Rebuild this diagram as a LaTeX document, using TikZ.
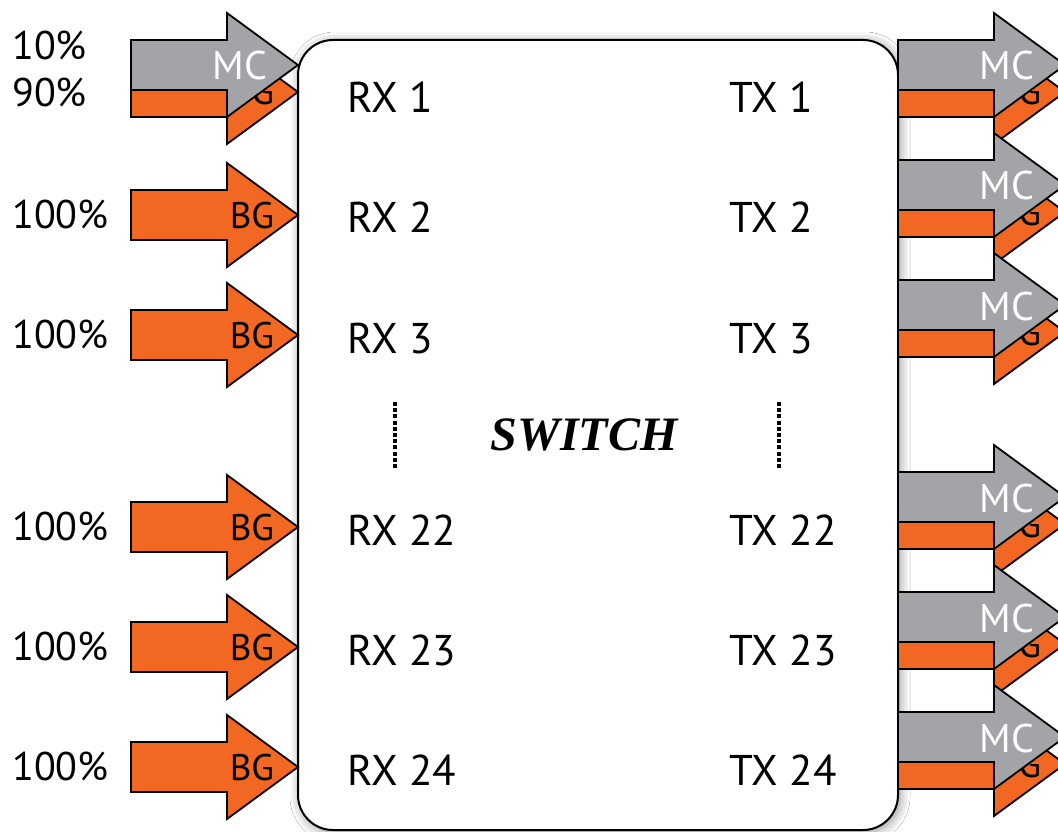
\documentclass[tikz,border=0pt]{standalone}
\usepackage{fontspec}
\setmainfont{PT Sans}
\newfontfamily\swfont{Liberation Serif}
\usetikzlibrary{shadows.blur}
\definecolor{bgcol}{HTML}{F26722}
\definecolor{mccol}{HTML}{A3A4A8}
\tikzset{
  arrowline/.style={draw=black,line width=1.8pt,line join=miter},
  pics/fatarrow/.style={code={%
    \path[arrowline,fill=#1] (0,-25) -- (96,-25) -- (96,-52) -- (167,0) -- (96,52) -- (96,25) -- (0,25) -- cycle;}},
  porttext/.style={anchor=base west,inner sep=0pt,font=\fontsize{43}{43}\selectfont},
  pcttext/.style={anchor=base west,inner sep=0pt,font=\fontsize{40}{40}\selectfont},
  bglab/.style={anchor=base,inner sep=0pt,text=black,font=\fontsize{37}{37}\selectfont},
  mclab/.style={anchor=base,inner sep=0pt,text=white,font=\fontsize{40}{40}\selectfont},
  switchbox/.style={draw=black,line width=2pt,fill=white,rounded corners=35pt,
    blur shadow={shadow xshift=2pt,shadow yshift=-2pt,shadow blur radius=10pt,shadow opacity=45}},
  dotline/.style={line width=4.5pt,dash pattern=on 4pt off 2.2pt}
}
\newcommand\singlearrow[2]{%
  \pic at (#1,#2) {fatarrow=bgcol};
  \node[bglab] at (#1+121,#2+13) {BG};}
\newcommand\dualarrow[2]{%
  \pic at (#1,#2+27) {fatarrow=bgcol};
  \node[bglab] at (#1+121,#2+40) {BG};
  \pic at (#1,#2) {fatarrow=mccol};
  \node[mclab] at (#1+109,#2+15) {MC};}
\begin{document}
\begin{tikzpicture}[x=1pt,y=-1pt]
\useasboundingbox (0,0) rectangle (1058,832);
\clip (0,0) rectangle (1058,832);
\fill[white] (0,0) rectangle (1058,832);
% switch box
\path[switchbox] (298,40) rectangle (898,830);
\node[anchor=base,inner sep=0pt,font=\swfont\bfseries\itshape\fontsize{48}{48}\selectfont] (sw) at (584,450) {SWITCH};
\draw[dotline] (395,402) -- (395,470);
\draw[dotline] (779,402) -- (779,470);
% input arrows
\dualarrow{131}{65}
\singlearrow{131}{215}
\singlearrow{131}{335}
\singlearrow{131}{527}
\singlearrow{131}{647}
\singlearrow{131}{767}
% output arrows
\dualarrow{898}{65}
\dualarrow{898}{185}
\dualarrow{898}{305}
\dualarrow{898}{497}
\dualarrow{898}{617}
\dualarrow{898}{737}
% percentages
\node[pcttext] (p1a) at (12,60) {10\%};
\node[pcttext] (p1b) at (12,107) {90\%};
\node[pcttext] (p2) at (12,228) {100\%};
\node[pcttext] (p3) at (12,348) {100\%};
\node[pcttext] (p22) at (12,540) {100\%};
\node[pcttext] (p23) at (12,660) {100\%};
\node[pcttext] (p24) at (12,780) {100\%};
% port labels
\node[porttext] (rx1) at (347,113) {RX 1};
\node[porttext] (rx2) at (347,233) {RX 2};
\node[porttext] (rx3) at (347,353) {RX 3};
\node[porttext] (rx22) at (347,545) {RX 22};
\node[porttext] (rx23) at (347,665) {RX 23};
\node[porttext] (rx24) at (347,785) {RX 24};
\node[porttext] (tx1) at (729,113) {TX 1};
\node[porttext] (tx2) at (729,233) {TX 2};
\node[porttext] (tx3) at (729,353) {TX 3};
\node[porttext] (tx22) at (729,545) {TX 22};
\node[porttext] (tx23) at (729,665) {TX 23};
\node[porttext] (tx24) at (729,785) {TX 24};
\end{tikzpicture}
\end{document}
